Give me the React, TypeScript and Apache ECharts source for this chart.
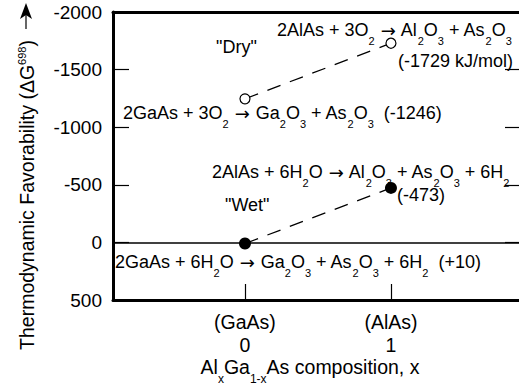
import React, { useEffect, useRef } from 'react';
import * as echarts from 'echarts';

// ---- data ----
const compositions = [0, 1];
const compositionNames = ['(GaAs)', '(AlAs)'];
const dryValues = [-1246, -1729]; // kJ/mol, O2 oxidation
const wetValues = [10, -473]; // kJ/mol, H2O oxidation
const yMin = -2000;
const yMax = 500;
const yStep = 500;

const FONT = '"Liberation Sans", Arial, Helvetica, sans-serif';
const FS = 18;
const FS_AX = 19;
const FS_X = 19.5;
const LH = 20;

const subStyle = {
  fontSize: 11,
  fontFamily: FONT,
  fill: '#000',
  color: '#000',
  lineHeight: LH,
  padding: [22, 0, 0, 0],
};
const subAxisStyle = {
  fontSize: 12,
  fontFamily: FONT,
  fill: '#000',
  color: '#000',
  lineHeight: LH,
  padding: [24, 0, 0, 0],
};
const supStyle = {
  fontSize: 11,
  fontFamily: FONT,
  fill: '#000',
  color: '#000',
  lineHeight: LH,
  padding: [0, 0, 11, 0],
};
const arrowStyle = {
  fontSize: 18,
  fontFamily: '"DejaVu Sans", sans-serif',
  fill: '#000',
  color: '#000',
  lineHeight: LH,
  padding: [0, 1, 0, 1],
};
const rich = { s: subStyle, p: supStyle, a: arrowStyle, S: subAxisStyle };

const fmt = (v: number) => (v > 0 ? `+${v}` : `${v}`);

const eqDryAl = '2AlAs + 3O{s|2} {a|→} Al{s|2}O{s|3} + As{s|2}O{s|3}';
const eqDryGa = `2GaAs + 3O{s|2} {a|→} Ga{s|2}O{s|3} + As{s|2}O{s|3}  (${fmt(dryValues[0])})`;
const eqWetAl = '2AlAs + 6H{s|2}O {a|→} Al{s|2}O{s|3} + As{s|2}O{s|3} + 6H{s|2}';
const eqWetGa = `2GaAs + 6H{s|2}O {a|→} Ga{s|2}O{s|3} + As{s|2}O{s|3} + 6H{s|2}  (${fmt(wetValues[0])})`;
const dryAlValue = `(${fmt(dryValues[1])} kJ/mol)`;
const wetAlValue = `(${fmt(wetValues[1])})`;

function txt(x: number, y: number, text: string, extra: any = {}, fontSize = FS) {
  const { align, ...rest } = extra;
  return {
    type: 'text',
    x,
    y,
    silent: true,
    ...rest,
    style: {
      text,
      fontSize,
      fontFamily: FONT,
      fill: '#000',
      align: align || 'left',
      verticalAlign: 'middle',
      lineHeight: LH,
      rich,
    },
  };
}

export default function App() {
  const ref = useRef<HTMLDivElement>(null);
  useEffect(() => {
    if (!ref.current) return;
    const chart = echarts.init(ref.current, null, { renderer: 'svg' });
    const xMin = -0.904;
    const xMax = 1.877;
    const option: any = {
      animation: false,
      grid: { left: 113, right: 0, top: 12, bottom: 92, containLabel: false, outerBoundsMode: 'none' },
      xAxis: [
        {
          type: 'value',
          min: xMin,
          max: xMax,
          position: 'bottom',
          axisLine: { show: true, onZero: false, lineStyle: { color: '#000', width: 3 } },
          axisTick: {
            show: true,
            inside: true,
            length: 16,
            customValues: compositions,
            lineStyle: { color: '#000', width: 1.2 },
          },
          axisLabel: {
            customValues: compositions,
            formatter: (v: number) => {
              const i = compositions.indexOf(v);
              return `${compositionNames[i]}\n${v}`;
            },
            fontSize: FS_X,
            fontFamily: FONT,
            lineHeight: 23,
            color: '#000',
            margin: 10,
          },
          splitLine: { show: false },
          name: 'Al{S|x}Ga{S|1-x}As composition, x',
          nameLocation: 'middle',
          nameGap: 57,
          nameMoveOverlap: false,
          nameTextStyle: {
            fontSize: FS_X,
            fontFamily: FONT,
            color: '#000',
            lineHeight: LH,
            padding: [0, 12, 0, 0],
            rich,
          },
        },
        {
          type: 'value',
          min: xMin,
          max: xMax,
          position: 'top',
          axisLine: { show: true, onZero: false, lineStyle: { color: '#000', width: 3 } },
          axisTick: { show: false },
          axisLabel: { show: false },
          splitLine: { show: false },
        },
      ],
      yAxis: [
        {
          type: 'value',
          min: yMin,
          max: yMax,
          interval: yStep,
          inverse: true,
          position: 'left',
          axisLine: { show: true, onZero: false, lineStyle: { color: '#000', width: 3 } },
          axisTick: { show: true, inside: true, length: 16, lineStyle: { color: '#000', width: 1.2 } },
          axisLabel: {
            fontSize: FS_AX,
            fontFamily: FONT,
            color: '#000',
            margin: 11,
            formatter: (v: number) => String(v),
          },
          splitLine: { show: false },
        },
        {
          type: 'value',
          min: yMin,
          max: yMax,
          interval: yStep,
          inverse: true,
          position: 'right',
          axisLine: { show: false, onZero: false },
          axisTick: { show: true, inside: true, length: 14, lineStyle: { color: '#000', width: 1.2 } },
          axisLabel: { show: false },
          splitLine: { show: false },
        },
      ],
      series: [
        {
          name: 'Dry',
          type: 'line',
          data: compositions.map((x, i) => [x, dryValues[i]]),
          symbol: 'circle',
          symbolSize: 10,
          itemStyle: { color: '#fff', borderColor: '#000', borderWidth: 1.2 },
          lineStyle: { color: '#000', width: 1.3, type: [14, 10] },
          z: 3,
        },
        {
          name: 'Wet',
          type: 'line',
          data: compositions.map((x, i) => [x, wetValues[i]]),
          symbol: 'circle',
          symbolSize: 12,
          itemStyle: { color: '#000', borderColor: '#000', borderWidth: 0 },
          lineStyle: { color: '#000', width: 1.3, type: [14, 10] },
          z: 3,
          markLine: {
            silent: true,
            symbol: ['none', 'none'],
            label: { show: false },
            lineStyle: { color: '#000', width: 1.5, type: 'solid' },
            data: [{ yAxis: 0 }],
          },
        },
      ],
      graphic: [
        txt(277, 30, eqDryAl),
        txt(216, 47, '"Dry"'),
        txt(398, 61, dryAlValue),
        txt(123, 113, eqDryGa),
        txt(212, 172, eqWetAl),
        txt(397, 195, wetAlValue),
        txt(225, 205, '"Wet"'),
        txt(115, 262, eqWetGa),
        txt(27, 195, 'Thermodynamic Favorability (ΔG{p|698})', { rotation: Math.PI / 2, align: 'center' }, 19.5),
        {
          type: 'polygon',
          silent: true,
          shape: { points: [[26, 3], [20, 19], [26, 15], [32, 19]] },
          style: { fill: '#000' },
        },
        {
          type: 'line',
          silent: true,
          shape: { x1: 26, y1: 15, x2: 26, y2: 29 },
          style: { stroke: '#000', lineWidth: 1.2 },
        },
      ],
    };
    chart.setOption(option);
    return () => chart.dispose();
  }, []);
  return (
    <div
      ref={ref}
      style={{ position: 'absolute', left: 0, top: 0, width: 519, height: 392, background: '#fff' }}
    />
  );
}
